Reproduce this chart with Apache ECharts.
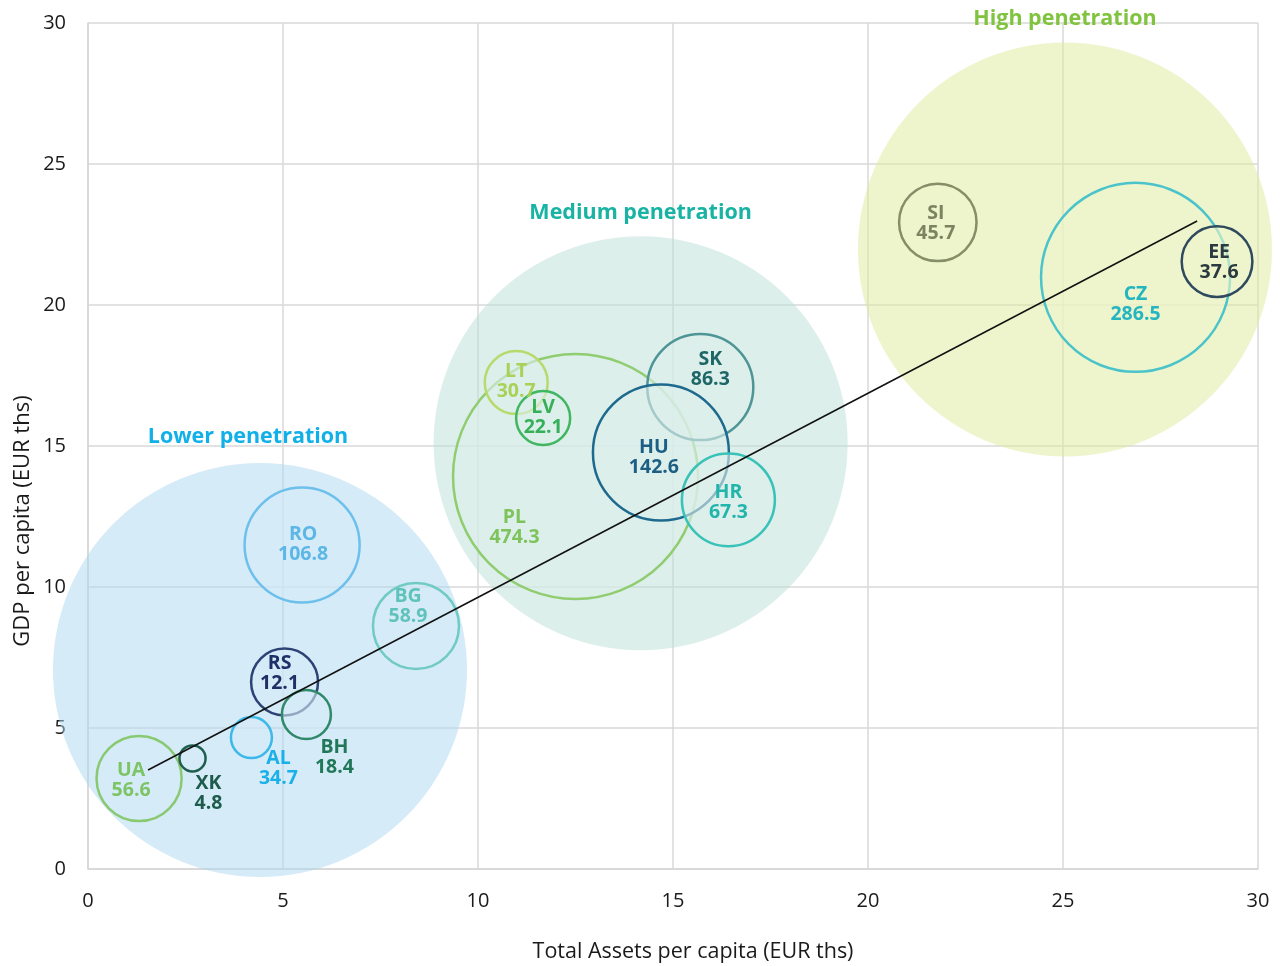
<!DOCTYPE html>
<html>
<head>
<meta charset="utf-8">
<script src="https://cdn.jsdelivr.net/npm/echarts@6/dist/echarts.min.js"></script>
<style>
  html, body { margin: 0; padding: 0; background: #ffffff; }
  #chart { width: 1280px; height: 966px; }
</style>
</head>
<body>
<div id="chart"></div>
<script>
// Countries, drawn back to front
const countries = ['UA', 'XK', 'AL', 'RS', 'BH', 'RO', 'BG', 'PL', 'LT', 'LV', 'SK', 'HU', 'HR', 'SI', 'CZ', 'EE'];
// Total assets per capita (EUR ths)
const assetsPerCapita = [1.31, 2.68, 4.19, 5.04, 5.60, 5.49, 8.41, 12.50, 10.98, 11.67, 15.70, 14.69, 16.42, 21.79, 26.86, 28.95];
// GDP per capita (EUR ths)
const gdpPerCapita = [3.21, 3.92, 4.66, 6.63, 5.48, 11.49, 8.62, 13.92, 17.25, 15.99, 17.09, 14.77, 13.09, 22.93, 20.98, 21.54];
// Value printed under each country code
const labelValues = [56.6, 4.8, 34.7, 12.1, 18.4, 106.8, 58.9, 474.3, 30.7, 22.1, 86.3, 142.6, 67.3, 45.7, 286.5, 37.6];
// Bubble weight (area scale)
const bubbleWeight = [18.1, 1.7, 4.2, 11.2, 6.0, 33.1, 18.5, 150.0, 9.9, 7.3, 28.1, 46.2, 21.6, 15.0, 89.3, 12.5];
// Penetration group of each country
const countryGroup = ['low', 'low', 'low', 'low', 'low', 'low', 'low', 'mid', 'mid', 'mid', 'mid', 'mid', 'mid', 'high', 'high', 'high'];

// Penetration groups
const groupKeys = ['low', 'mid', 'high'];
const groupNames = ['Lower penetration', 'Medium penetration', 'High penetration'];
const groupX = [4.41, 14.17, 25.05];
const groupY = [7.06, 15.10, 21.97];
const groupWeight = [428.5, 428.5, 428.5];

// Trend line end points
const trendX = [1.54, 28.44];
const trendY = [3.51, 22.98];

// Axis titles
const xAxisTitle = 'Total Assets per capita (EUR ths)';
const yAxisTitle = 'GDP per capita (EUR ths)';

// Styling
const FONT = "'Open Sans', 'Noto Sans', sans-serif";
const sizeScale = 20; // px diameter per sqrt(weight)
const groupStyle = {
  low:  { fill: [171, 215, 239], title: '#12b0e8', titleOffset: [-12, -3] },
  mid:  { fill: [185, 223, 215], title: '#18b3a3', titleOffset: [0, 0] },
  high: { fill: [221, 235, 153], title: '#80c33f', titleOffset: [0, -1] }
};
const countryStyle = {
  UA: { stroke: '#88c972', text: '#7cc466', offset: [-8, 2] },
  XK: { stroke: '#1f5e4e', text: '#1d5c4c', offset: [16, 35] },
  AL: { stroke: '#3db8ea', text: '#1ab0ea', offset: [27, 31] },
  RS: { stroke: '#2d4274', text: '#1f3068', offset: [-5, -9] },
  BH: { stroke: '#30896a', text: '#217858', offset: [28, 43] },
  RO: { stroke: '#6dc0ec', text: '#5cb6e6', offset: [1, -1] },
  BG: { stroke: '#70cbc4', text: '#5fc3bc', offset: [-8, -19] },
  PL: { stroke: '#90cc70', text: '#7fc35c', offset: [-61, 51] },
  LT: { stroke: '#b8da6c', text: '#a9d158', offset: [0, -1] },
  LV: { stroke: '#40b660', text: '#36b058', offset: [0, -1] },
  SK: { stroke: '#4f9596', text: '#1f6666', offset: [10, -18] },
  HU: { stroke: '#1e6a8e', text: '#1d5f84', offset: [-7, 5] },
  HR: { stroke: '#38c2b8', text: '#22b5ab', offset: [0, 3] },
  SI: { stroke: '#858d69', text: '#7b8360', offset: [-2, 1] },
  CZ: { stroke: '#4ac4ca', text: '#25b5c0', offset: [0, 27] },
  EE: { stroke: '#2f4a5e', text: '#2b3a40', offset: [2, 1] }
};

const rgba = (c, a) => 'rgba(' + c[0] + ',' + c[1] + ',' + c[2] + ',' + a + ')';
// colour a 50% group fill shows on white
const seenOnWhite = c => c.map(v => Math.round((v + 255) / 2));

const groupData = groupKeys.map((k, i) => ({
  value: [groupX[i], groupY[i], groupWeight[i]],
  name: groupNames[i],
  itemStyle: { color: rgba(groupStyle[k].fill, 0.5), opacity: 1 },
  label: { color: groupStyle[k].title, offset: groupStyle[k].titleOffset }
}));

const countryData = countries.map((c, i) => {
  const st = countryStyle[c];
  return {
    value: [assetsPerCapita[i], gdpPerCapita[i], bubbleWeight[i], labelValues[i]],
    name: c,
    itemStyle: {
      color: rgba(seenOnWhite(groupStyle[countryGroup[i]].fill), 0.6),
      borderColor: st.stroke,
      borderWidth: 2.5,
      opacity: 1
    },
    label: { color: st.text, offset: st.offset }
  };
});

const chart = echarts.init(document.getElementById('chart'), null, { renderer: 'canvas' });

const axisCommon = {
  type: 'value',
  min: 0,
  max: 30,
  interval: 5,
  axisLine: { show: true, lineStyle: { color: '#d6d6d6', width: 1.5 } },
  axisTick: { show: false },
  splitLine: { show: true, lineStyle: { color: '#d9d9d9', width: 1.5 } },
  axisLabel: { color: '#1a1a1a', fontSize: 20, fontFamily: FONT, margin: 22 }
};

chart.setOption({
  animation: false,
  backgroundColor: '#ffffff',
  grid: { left: 88, right: 22, top: 23, bottom: 97 },
  xAxis: Object.assign({}, axisCommon),
  yAxis: Object.assign({}, axisCommon),
  graphic: [
    {
      type: 'text',
      x: 693, y: 952,
      style: { text: xAxisTitle, fill: '#1a1a1a', font: '21.5px ' + FONT, align: 'center', verticalAlign: 'middle' }
    },
    {
      type: 'text',
      x: 23, y: 521,
      rotation: Math.PI / 2,
      style: { text: yAxisTitle, fill: '#1a1a1a', font: '22px ' + FONT, align: 'center', verticalAlign: 'middle' }
    }
  ],
  series: [
    {
      name: 'groups',
      type: 'scatter',
      z: 1,
      symbol: 'circle',
      symbolSize: v => Math.sqrt(v[2]) * sizeScale,
      data: groupData,
      silent: true,
      label: {
        show: true,
        position: 'top',
        distance: 12,
        formatter: p => p.name,
        fontFamily: FONT,
        fontSize: 21.5,
        fontWeight: 'bold'
      }
    },
    {
      name: 'countries',
      type: 'scatter',
      z: 2,
      symbol: 'circle',
      symbolSize: v => Math.sqrt(v[2]) * sizeScale,
      data: countryData,
      label: {
        show: true,
        position: 'inside',
        align: 'center',
        verticalAlign: 'middle',
        formatter: p => p.name + '\n' + p.value[3].toFixed(1),
        fontFamily: FONT,
        fontSize: 19.5,
        fontWeight: 'bold',
        lineHeight: 20
      }
    },
    {
      name: 'trend',
      type: 'line',
      z: 3,
      symbol: 'none',
      silent: true,
      lineStyle: { color: '#111111', width: 1.5 },
      data: trendX.map((x, i) => [x, trendY[i]])
    }
  ]
});
</script>
</body>
</html>
